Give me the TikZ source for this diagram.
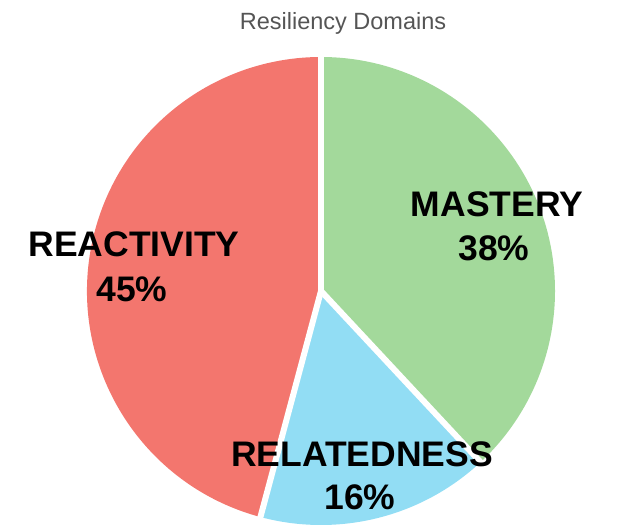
\documentclass[tikz,border=0pt]{standalone}
\usepackage{fontspec}
\setmainfont{Liberation Sans}
\definecolor{cred}{RGB}{243,118,110}
\definecolor{cgreen}{RGB}{163,217,155}
\definecolor{cblue}{RGB}{146,221,244}
\definecolor{ctitle}{RGB}{85,85,85}
\begin{document}
\begin{tikzpicture}[x=1pt,y=1pt,
  slice/.style={draw=white,line width=6pt,line join=round},
  lbl/.style={anchor=base,inner sep=0pt,font=\fontsize{35.5}{40}\selectfont\bfseries,text=black},
  ttl/.style={anchor=base,inner sep=0pt,font=\fontsize{23.5}{28}\selectfont,text=ctitle}]
\useasboundingbox (0,0) rectangle (618,527);
\coordinate (c) at (321,236);
\def\R{234}
\fill[cgreen] (c) -- ++(90:\R) arc[start angle=90,end angle=-47,radius=\R] -- cycle;
\fill[cblue] (c) -- ++(-47:\R) arc[start angle=-47,end angle=-105,radius=\R] -- cycle;
\fill[cred] (c) -- ++(-105:\R) arc[start angle=-105,end angle=-270,radius=\R] -- cycle;
\draw[slice] (c) -- ++(90:\R+3);
\draw[slice] (c) -- ++(-47:\R+3);
\draw[slice] (c) -- ++(-105:\R+3);
\node[ttl] (title) at (343,497) {Resiliency Domains};
\node[lbl] (m1) at (497,310) {MASTERY};
\node[lbl] (m2) at (494,266) {38\%};
\node[lbl] (r1) at (134,270) {REACTIVITY};
\node[lbl] (r2) at (132,225) {45\%};
\node[lbl] (d1) at (362,60) {RELATEDNESS};
\node[lbl] (d2) at (360,17) {16\%};
\end{tikzpicture}
\end{document}
